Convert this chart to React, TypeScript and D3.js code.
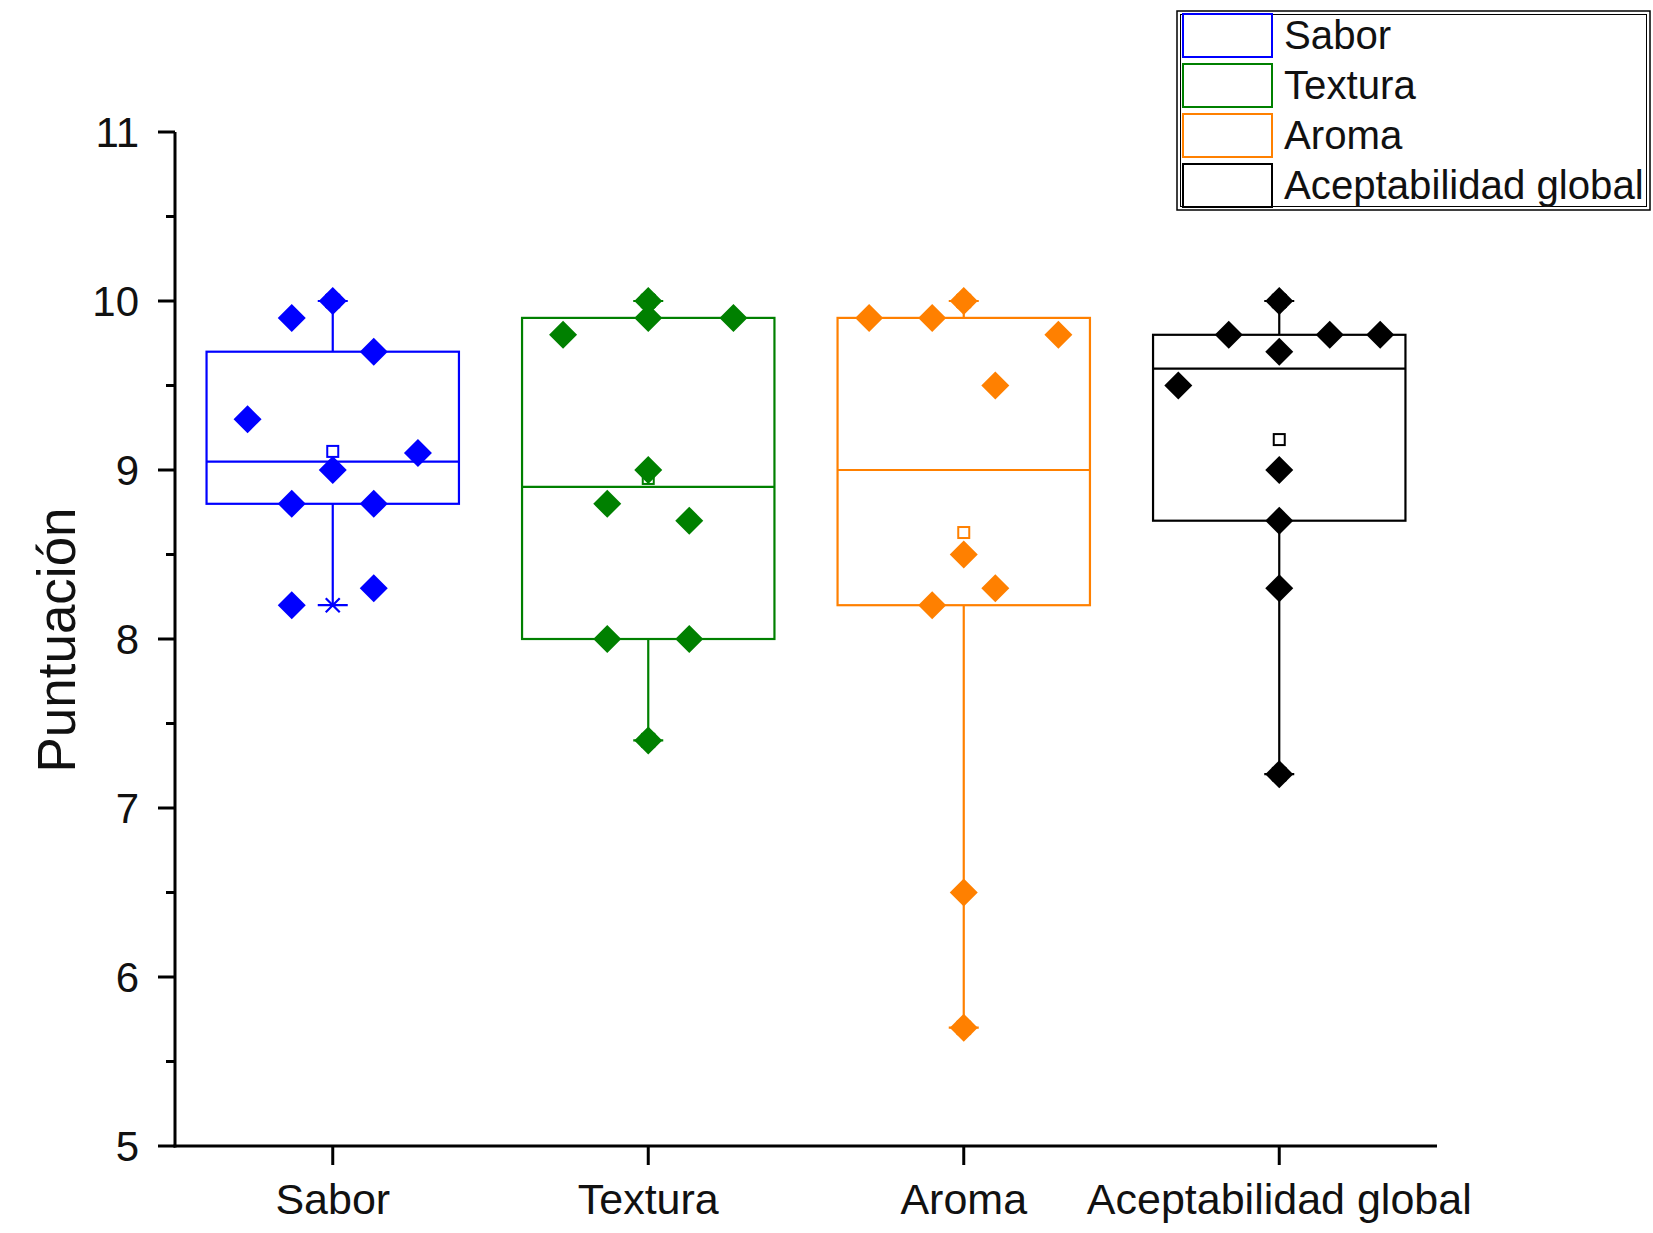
import React from "react";
import * as d3 from "d3";

// categories and colours (Origin-like)
const categories = ["Sabor", "Textura", "Aroma", "Aceptabilidad global"];
const colors = ["#0000FF", "#008000", "#FF8000", "#000000"];

// raw scores per attribute
const saborValues = [10.0, 9.9, 9.7, 9.3, 9.1, 9.0, 8.8, 8.8, 8.3, 8.2];
const texturaValues = [10.0, 9.9, 9.9, 9.8, 9.0, 8.8, 8.7, 8.0, 8.0, 7.4];
const aromaValues = [10.0, 9.9, 9.9, 9.8, 9.5, 8.5, 8.3, 8.2, 6.5, 5.7];
const globalValues = [10.0, 9.8, 9.8, 9.8, 9.7, 9.5, 9.0, 8.7, 8.3, 7.2];

// horizontal spread of the overlaid points (fraction of a category)
const saborSpread = [0, -0.13, 0.13, -0.27, 0.27, 0, -0.13, 0.13, 0.13, -0.13];
const texturaSpread = [0, 0, 0.27, -0.27, 0, -0.13, 0.13, -0.13, 0.13, 0];
const aromaSpread = [0, -0.3, -0.1, 0.3, 0.1, 0, 0.1, -0.1, 0, 0];
const globalSpread = [0, -0.16, 0.16, 0.32, 0, -0.32, 0, 0, 0, 0];

const yTicks = [5, 6, 7, 8, 9, 10, 11];

const series = [
  { values: saborValues, spread: saborSpread },
  { values: texturaValues, spread: texturaSpread },
  { values: aromaValues, spread: aromaSpread },
  { values: globalValues, spread: globalSpread },
];

// Tukey hinges (matches the boxes in the picture)
const boxStats = (vals: number[]) => {
  const s = [...vals].sort(d3.ascending);
  const n = s.length;
  const half = Math.floor(n / 2);
  const lower = s.slice(0, half + (n % 2));
  const upper = s.slice(half);
  return {
    min: s[0],
    max: s[n - 1],
    q1: d3.median(lower) as number,
    q3: d3.median(upper) as number,
    med: d3.median(s) as number,
    mean: d3.mean(s) as number,
  };
};

const FONT = "'Liberation Sans', Arial, sans-serif";

const App = () => {
  const width = 1653;
  const height = 1233;

  const x = d3.scaleLinear().domain([0.5, 4.5]).range([175, 1437]);
  const y = d3.scaleLinear().domain([5, 11]).range([1146, 132]);
  const unit = x(1) - x(0);
  const boxW = 0.8 * unit;

  const minorTicks = d3.range(5.5, 11, 1);

  const diamond = (cx: number, cy: number, r: number) =>
    `M${cx},${cy - r}L${cx + r},${cy}L${cx},${cy + r}L${cx - r},${cy}Z`;

  const star = (cx: number, cy: number) =>
    `M${cx - 15},${cy}H${cx + 15}M${cx - 7},${cy - 7}L${cx + 7},${cy + 7}M${cx - 7},${cy + 7}L${cx + 7},${cy - 7}`;

  return (
    <svg
      width={width}
      height={height}
      style={{ position: "absolute", left: 0, top: 0, background: "#fff" }}
      fontFamily={FONT}
    >
      {/* boxes */}
      {series.map((s, i) => {
        const st = boxStats(s.values);
        const cx = x(i + 1);
        const c = colors[i];
        return (
          <g key={"box" + i} stroke={c} strokeWidth={2.2} fill="none">
            <line x1={cx} x2={cx} y1={y(st.max)} y2={y(st.q3)} />
            <line x1={cx} x2={cx} y1={y(st.q1)} y2={y(st.min)} />
            <rect x={cx - boxW / 2} y={y(st.q3)} width={boxW} height={y(st.q1) - y(st.q3)} fill="#fff" />
            <line x1={cx - boxW / 2} x2={cx + boxW / 2} y1={y(st.med)} y2={y(st.med)} />
            <path d={star(cx, y(st.min))} />
            <path d={star(cx, y(st.max))} />
            <rect x={cx - 5.5} y={y(st.mean) - 5.5} width={11} height={11} fill="#fff" strokeWidth={2} />
          </g>
        );
      })}

      {/* points */}
      {series.map((s, i) => (
        <g key={"pts" + i} fill={colors[i]}>
          {s.values.map((v, j) => (
            <path key={j} d={diamond(x(i + 1 + s.spread[j]), y(v), 14)} />
          ))}
        </g>
      ))}

      {/* y axis */}
      <g stroke="#000" strokeWidth={3}>
        <line x1={x(0.5)} x2={x(0.5)} y1={y(11)} y2={y(5) + 1.5} />
        {yTicks.map((t) => (
          <line key={"yt" + t} x1={x(0.5) - 17} x2={x(0.5)} y1={y(t)} y2={y(t)} />
        ))}
        {minorTicks.map((t) => (
          <line key={"ym" + t} x1={x(0.5) - 9} x2={x(0.5)} y1={y(t)} y2={y(t)} />
        ))}
      </g>
      {yTicks.map((t) => (
        <text
          key={"yl" + t}
          x={x(0.5) - 36}
          y={y(t)}
          dy="0.36em"
          textAnchor="end"
          fontSize={42}
          fill="#111"
        >
          {t}
        </text>
      ))}
      <text
        transform={`translate(75,640) rotate(-90)`}
        textAnchor="middle"
        fontSize={53}
        fill="#111"
      >
        Puntuación
      </text>

      {/* x axis */}
      <g stroke="#000" strokeWidth={3}>
        <line x1={x(0.5) - 1.5} x2={x(4.5)} y1={y(5)} y2={y(5)} />
        {categories.map((c, i) => (
          <line key={"xt" + i} x1={x(i + 1)} x2={x(i + 1)} y1={y(5)} y2={y(5) + 19} />
        ))}
      </g>
      {categories.map((c, i) => (
        <text key={"xl" + i} x={x(i + 1)} y={1214} textAnchor="middle" fontSize={43} fill="#111">
          {c}
        </text>
      ))}

      {/* legend */}
      <g>
        <rect x={1177} y={11} width={473} height={199} fill="#fff" stroke="#000" strokeWidth={1.5} />
        <rect x={1180.5} y={14.5} width={466} height={192} fill="none" stroke="#000" strokeWidth={1} />
        {categories.map((c, i) => (
          <g key={"lg" + i} transform={`translate(0,${i * 50})`}>
            <rect x={1183} y={14} width={89} height={43} fill="#fff" stroke={colors[i]} strokeWidth={2} />
            <text x={1284} y={49} fontSize={40.2} fill="#111">
              {c}
            </text>
          </g>
        ))}
      </g>
    </svg>
  );
};

export default App;
